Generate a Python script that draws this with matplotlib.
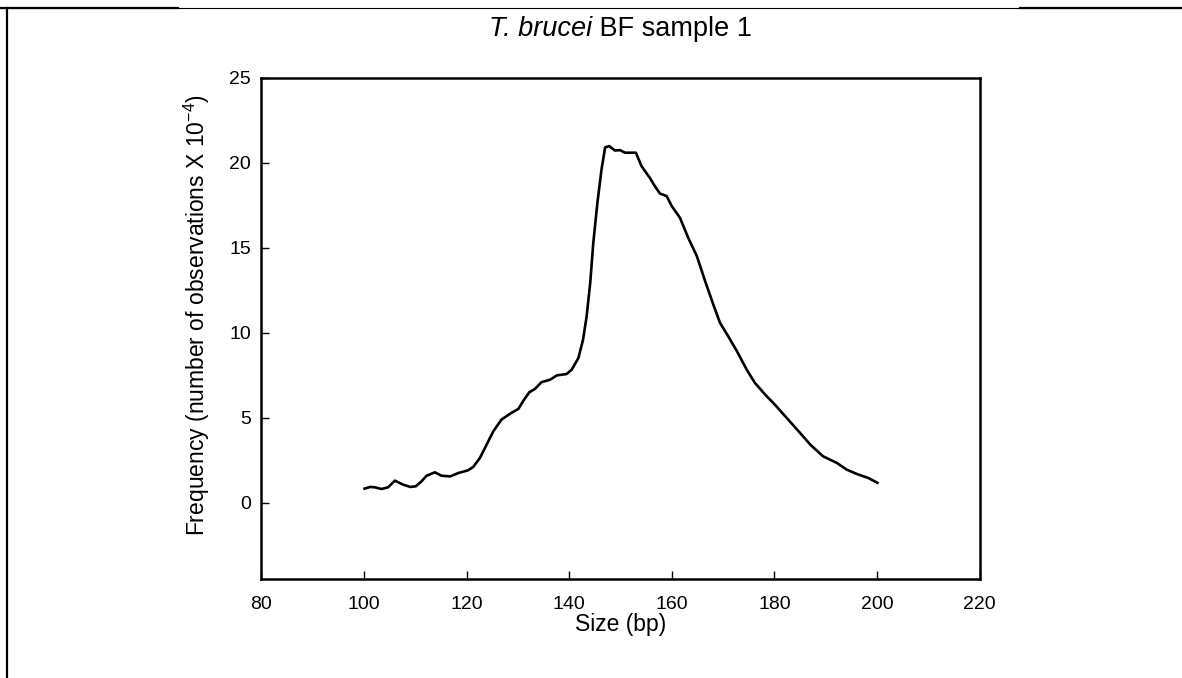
import numpy as np
import matplotlib
matplotlib.use("Agg")
import matplotlib.pyplot as plt
from matplotlib.lines import Line2D

# fragment size (bp) and frequency values
size_bp = [100.1, 101.2, 102.1, 103.4, 104.7, 106.0, 107.6, 109.0, 110.1, 111.2,
           112.2, 113.8, 115.1, 116.8, 118.4, 120.3, 121.3, 122.6, 123.9, 125.2,
           126.8, 128.5, 130.1, 131.0, 132.2, 133.3, 134.6, 136.3, 137.6, 139.5,
           140.5, 141.8, 142.7, 143.4, 144.1, 144.7, 145.5, 146.3, 147.0, 147.8,
           148.9, 149.9, 150.9, 153.0, 154.1, 155.7, 156.7, 157.7, 159.0, 160.0,
           161.6, 163.2, 164.9, 166.5, 168.1, 169.4, 171.0, 172.7, 174.6, 176.2,
           178.2, 180.1, 182.4, 185.0, 187.0, 189.5, 192.2, 194.1, 196.1, 198.3,
           200.1]
frequency = [0.84, 0.94, 0.92, 0.82, 0.92, 1.31, 1.08, 0.94, 0.98, 1.27,
             1.60, 1.80, 1.60, 1.56, 1.76, 1.92, 2.12, 2.65, 3.43, 4.21,
             4.90, 5.25, 5.53, 5.98, 6.50, 6.70, 7.10, 7.25, 7.50, 7.58,
             7.84, 8.53, 9.60, 10.98, 12.94, 15.30, 17.65, 19.60, 20.90, 20.98,
             20.72, 20.74, 20.59, 20.59, 19.80, 19.12, 18.62, 18.19, 18.04, 17.45,
             16.76, 15.59, 14.50, 13.04, 11.66, 10.59, 9.80, 8.92, 7.84, 7.06,
             6.37, 5.78, 5.00, 4.12, 3.43, 2.74, 2.35, 1.96, 1.70, 1.47,
             1.18]

x_ticks = [80, 100, 120, 140, 160, 180, 200, 220]
y_ticks = [0, 5, 10, 15, 20, 25]

plt.rcParams["font.family"] = ["Liberation Sans", "DejaVu Sans"]
plt.rcParams["mathtext.fontset"] = "custom"
plt.rcParams["mathtext.rm"] = "Liberation Sans"
plt.rcParams["mathtext.it"] = "Liberation Sans:italic"

W, H = 1182, 678
fig = plt.figure(figsize=(W / 100, H / 100), dpi=100)
ax = fig.add_axes([0.2212, 0.1453, 0.6075, 0.7401])

ax.plot(size_bp, frequency, color="black", lw=1.9)

ax.set_xlim(80, 220)
ax.set_ylim(-4.5, 25)
ax.set_xticks(x_ticks)
ax.set_yticks(y_ticks)
ax.tick_params(direction="in", length=6, width=1, labelsize=14)
ax.tick_params(axis="y", pad=7.5)
ax.tick_params(axis="x", pad=12)
for s in ax.spines.values():
    s.set_linewidth(1.8)

ax.set_xlabel("Size (bp)", fontsize=16.5)
ax.xaxis.label.set_va("center")
ax.xaxis.set_label_coords(0.5, -0.09)
ax.set_ylabel("Frequency (number of observations X 10$^{-4}$)", fontsize=16.5)
ax.yaxis.label.set_va("center")
ax.yaxis.set_label_coords(-0.0905, 0.527)

# title: italic species name followed by upright text
t1 = fig.text(489 / W, 1 - 36 / H, "T. brucei", fontsize=19.5, style="italic",
              va="baseline", ha="left")
ax.annotate(" BF sample 1", xy=(1, 0), xycoords=t1, fontsize=19.5,
            va="bottom", ha="left", annotation_clip=False)

# frame lines from the original figure panel
ytop = 1 - 7.5 / H
fig.add_artist(Line2D([0, 1], [ytop, ytop], color="black", lw=0.8))
fig.add_artist(Line2D([0, 178 / W], [ytop, ytop], color="black", lw=1.6))
fig.add_artist(Line2D([1020 / W, 1], [ytop, ytop], color="black", lw=1.6))
fig.add_artist(Line2D([7 / W, 7 / W], [0, ytop], color="black", lw=1.6))

fig.savefig("out.png", dpi=100)
